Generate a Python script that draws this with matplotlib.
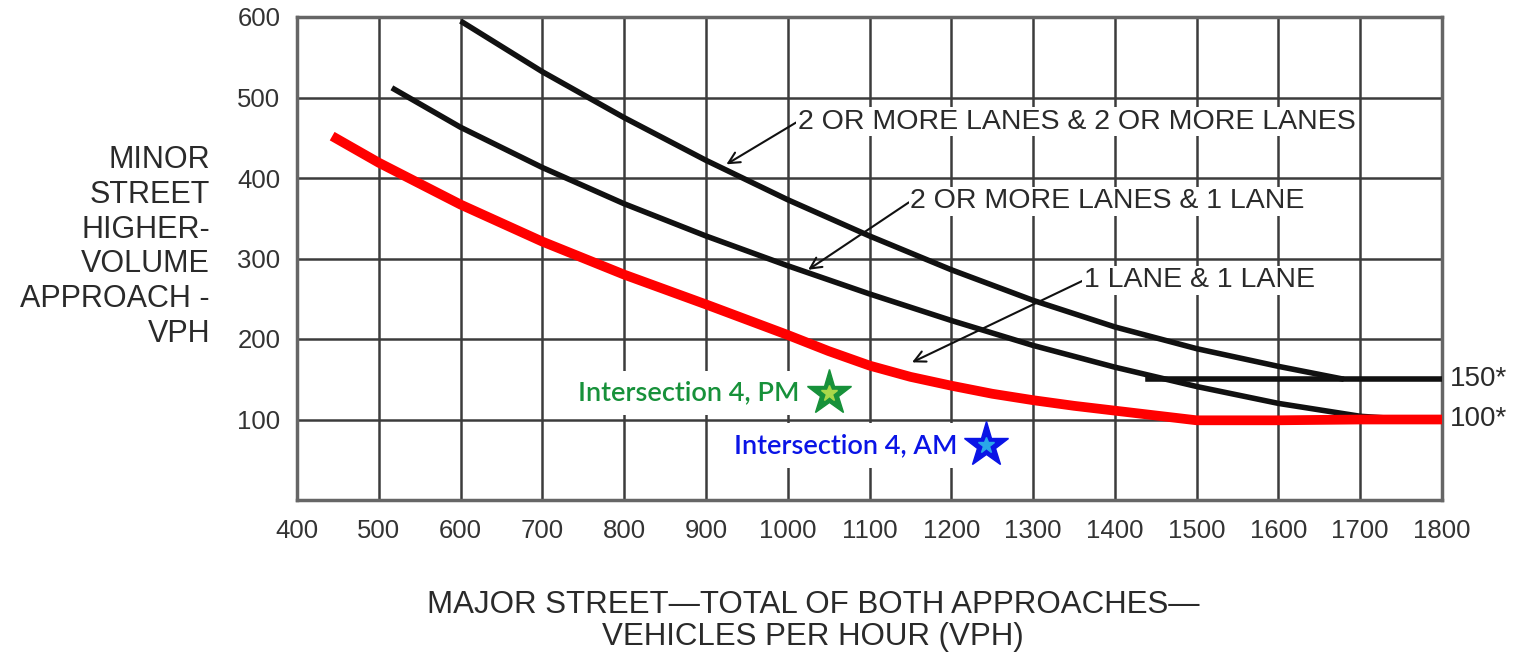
import matplotlib.pyplot as plt
import numpy as np

# curves (major street vph, minor street vph)
two_two_x = [600, 700, 800, 900, 1000, 1100, 1200, 1300, 1400, 1500, 1600, 1680]
two_two_y = [595, 532, 475, 422, 373, 328, 286, 248, 215, 188, 166, 150]

two_one_x = [516, 600, 700, 800, 900, 1000, 1100, 1200, 1300, 1400, 1500, 1600, 1700, 1760, 1800]
two_one_y = [512, 463, 413, 368, 328, 291, 256, 223, 192, 165, 141, 120, 104, 100, 100]

one_one_x = [443, 500, 600, 700, 800, 900, 950, 1000, 1050, 1100, 1150, 1200, 1250,
             1300, 1350, 1400, 1450, 1500, 1600, 1700, 1800]
one_one_y = [452, 419, 367, 321, 280, 243, 224, 205, 185, 167, 153, 142, 132,
             124, 117, 111, 105, 99, 99, 100, 100]

floor_x = [1440, 1800]
floor_y = [150, 150]
limit_levels = [150, 100]
limit_labels = ['150*', '100*']

points = ['Intersection 4, PM', 'Intersection 4, AM']
point_x = [1050, 1243]
point_y = [133, 68]
point_outer = ['#17913a', '#0a14e6']
point_inner = ['#a8d84a', '#2aa8e8']

xticks = list(range(400, 1900, 100))
yticks = list(range(100, 700, 100))

txt = '#2a2a2a'
plt.rcParams['font.family'] = ['Liberation Sans', 'DejaVu Sans']

fig = plt.figure(figsize=(15.16, 6.53), dpi=100)
ax = fig.add_axes([297 / 1516, 1 - 500 / 653, (1442 - 297) / 1516, (500 - 17) / 653])
ax.set_xlim(400, 1800)
ax.set_ylim(0, 600)
ax.set_xticks(xticks)
ax.set_yticks(yticks)
ax.grid(True, color='#3c3c3c', lw=1.8, zorder=0)
ax.set_axisbelow(True)
ax.tick_params(length=0, labelsize=18.5, labelcolor='#333333')
ax.tick_params(axis='x', pad=14)
ax.tick_params(axis='y', pad=12)
for s in ax.spines.values():
    s.set_color('#666666')
    s.set_linewidth(2.5)

ax.plot(two_two_x, two_two_y, color='#111111', lw=4, solid_capstyle='butt',
        solid_joinstyle='round', zorder=4)
ax.plot(two_one_x, two_one_y, color='#111111', lw=4, solid_capstyle='butt',
        solid_joinstyle='round', zorder=4)
ax.plot(floor_x, floor_y, color='#111111', lw=4, zorder=4)
ax.plot(one_one_x, one_one_y, color='#ff0000', lw=7, solid_capstyle='butt',
        solid_joinstyle='round', zorder=5)

for lv, lb in zip(limit_levels, limit_labels):
    ax.annotate(lb, (1800, lv), xytext=(6, 0), textcoords='offset points',
                va='center', ha='left', fontsize=20, color=txt, annotation_clip=False)

box = dict(facecolor='white', edgecolor='none', pad=1)
arrow = dict(arrowstyle='->', color='#111111', lw=1.5, shrinkA=0, shrinkB=0,
             mutation_scale=20, relpos=(0, 0.5))
ax.annotate('2 OR MORE LANES & 2 OR MORE LANES', xy=(925, 417), xytext=(1012, 470),
            fontsize=20.5, color=txt, va='center', ha='left', bbox=box,
            arrowprops=arrow, zorder=6)
ax.annotate('2 OR MORE LANES & 1 LANE', xy=(1025, 286), xytext=(1150, 371),
            fontsize=20.5, color=txt, va='center', ha='left', bbox=box,
            arrowprops=arrow, zorder=6)
ax.annotate('1 LANE & 1 LANE', xy=(1152, 171), xytext=(1362, 273),
            fontsize=20.5, color=txt, va='center', ha='left', bbox=box,
            arrowprops=arrow, zorder=6)

for name, px, py, oc, ic in zip(points, point_x, point_y, point_outer, point_inner):
    ax.annotate(name, (px, py), xytext=(-21, 0), textcoords='offset points',
                ha='right', va='center', fontsize=19.5, color=oc, family='Lato',
                fontweight='semibold',
                bbox=dict(facecolor='white', edgecolor='none', pad=7), zorder=3)
    ax.plot(px, py, marker='*', ms=34, color=oc, mec=oc, zorder=7)
    ax.plot(px, py, marker='*', ms=12, color=ic, mec=ic, zorder=8)

fig.text(210 / 1516, 1 - 247 / 653,
         'MINOR\nSTREET\nHIGHER-\nVOLUME\nAPPROACH -\nVPH',
         ha='right', va='center', multialignment='right', fontsize=22,
         color=txt, linespacing=1.2)
fig.text(813 / 1516, 1 - 621 / 653,
         'MAJOR STREET\u2014TOTAL OF BOTH APPROACHES\u2014\nVEHICLES PER HOUR (VPH)',
         ha='center', va='center', fontsize=22.5, color=txt, linespacing=1.1)

fig.savefig('out.png', dpi=100, facecolor='white')
